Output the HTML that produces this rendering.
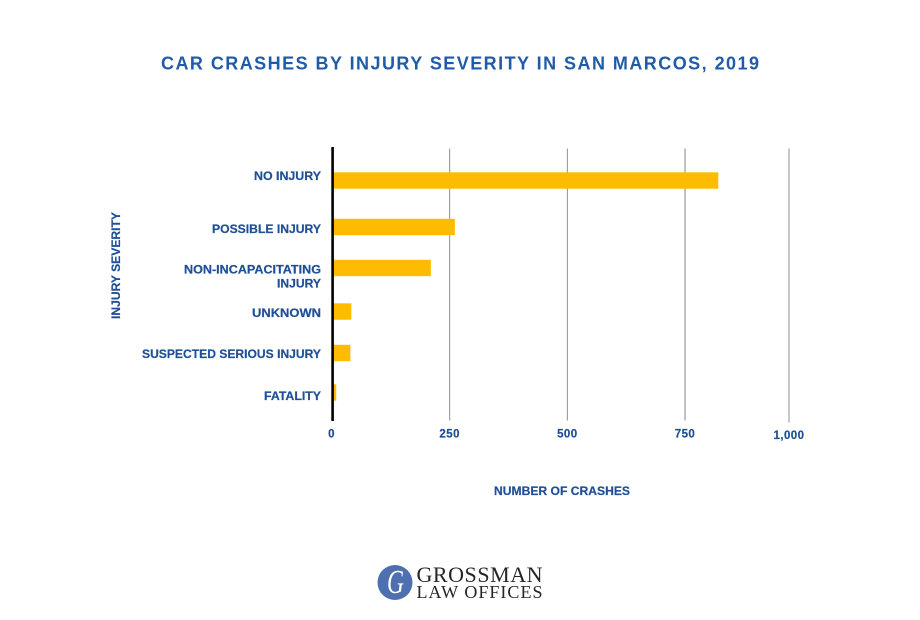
<!DOCTYPE html>
<html lang="en">
<head>
<meta charset="utf-8">
<title>Car Crashes by Injury Severity in San Marcos, 2019</title>
<style>
  html, body { margin: 0; padding: 0; background: #ffffff; }
  body { width: 920px; height: 620px; overflow: hidden; }
  svg { display: block; filter: blur(0.3px); }
  text { font-family: "Liberation Sans", sans-serif; }
  .lbl { font-size: 11.5px; font-weight: 700; fill: #1f4f96; stroke: #1f4f96; stroke-width: 0.2px; letter-spacing: 0.43px; }
  .cat { letter-spacing: 0; }
  .logo { font-family: "Liberation Serif", serif; fill: #262626; }
</style>
</head>
<body>
<svg id="chart" width="920" height="620" viewBox="0 0 920 620" xmlns="http://www.w3.org/2000/svg">
  <rect x="0" y="0" width="920" height="620" fill="#ffffff"/>
  <text x="161" y="69.5" textLength="598" lengthAdjust="spacing" font-size="18" font-weight="700" fill="#1f5ba8">CAR CRASHES BY INJURY SEVERITY IN SAN MARCOS, 2019</text>
  <g id="grid"></g>
  <g id="bars"></g>
  <rect x="331.3" y="147" width="2.6" height="274" fill="#000000"/>
  <g id="ylabels"></g>
  <g id="xlabels"></g>
  <text class="lbl cat" transform="translate(120,319) rotate(-90)" textLength="107" lengthAdjust="spacingAndGlyphs">INJURY SEVERITY</text>
  <text class="lbl cat" x="494" y="495" textLength="136" lengthAdjust="spacingAndGlyphs">NUMBER OF CRASHES</text>
  <g>
    <circle cx="395" cy="582.5" r="17.5" fill="#4f70b0"/>
    <text x="387" y="593" font-size="34" font-style="italic" textLength="17" lengthAdjust="spacingAndGlyphs" style="font-family:'Liberation Serif',serif" fill="#ffffff">G</text>
    <text class="logo" x="416.5" y="582" font-size="22" textLength="126" lengthAdjust="spacing">GROSSMAN</text>
    <text class="logo" x="416.5" y="598" font-size="18" textLength="126" lengthAdjust="spacing">LAW OFFICES</text>
  </g>
</svg>
<script>
const categories = ['NO INJURY', 'POSSIBLE INJURY', 'NON-INCAPACITATING INJURY', 'UNKNOWN', 'SUSPECTED SERIOUS INJURY', 'FATALITY'];
const crashCounts = [830, 261, 210, 41, 39, 9];
const tickValues = [0, 250, 500, 750, 1000];
const tickLabels = ['0', '250', '500', '750', '1,000'];

const NS = 'http://www.w3.org/2000/svg';
function make(tag, parent) {
  const el = document.createElementNS(NS, tag);
  parent.appendChild(el);
  return el;
}
/* Axis functions: the reference's last gridline sits closer than a linear scale would put it */
function xAxis(v) {
  if (v <= 750) return 332 + v * 0.4707;
  return 685 + (v - 750) * 0.416;
}
function yAxis(i) {
  const nudge = [0, 4.1, 2.7, 3.8, 2.9, 0];
  return 180.5 + i * 42.4 + nudge[i];
}
function labelBaseline(i) {
  const nudge = [-0.5, 6, 5.5, 5.5, 5, 7.5];
  return yAxis(i) + nudge[i];
}
function labelWidth(i, k) {
  const widths = [[67], [109], [137, 44], [69], [179], [57]];
  return widths[i][k];
}

const grid = document.getElementById('grid');
const bars = document.getElementById('bars');
const ylabels = document.getElementById('ylabels');
const xlabels = document.getElementById('xlabels');

tickValues.forEach(function (v, i) {
  if (v > 0) {
    const line = make('line', grid);
    
    
    line.setAttribute('x1', xAxis(v));
    line.setAttribute('x2', xAxis(v));
    line.setAttribute('y1', 148.5);
    line.setAttribute('y2', v === 1000 ? 422.5 : 420.5);
    line.setAttribute('stroke', v === 750 ? '#a8a8a8' : '#8f8f8f');
    line.setAttribute('stroke-width', v === 750 ? 1.4 : 1);
  }
  const t = make('text', xlabels);
  
  
  t.setAttribute('class', 'lbl');
  t.setAttribute('x', xAxis(v) - (v === 0 ? 0.5 : 0));
  t.setAttribute('y', v === 1000 ? 439 : 437.5);
  t.setAttribute('text-anchor', 'middle');
  t.textContent = tickLabels[i];
});

categories.forEach(function (name, i) {
  const bar = make('rect', bars);
  
  
  bar.setAttribute('x', xAxis(0));
  bar.setAttribute('y', yAxis(i) - 8.2);
  bar.setAttribute('width', xAxis(crashCounts[i]) - xAxis(0));
  bar.setAttribute('height', 16.4);
  bar.setAttribute('fill', '#ffbb00');

  let lines = [name];
  if (name.length > 24) {
    const cut = name.lastIndexOf(' ');
    lines = [name.slice(0, cut), name.slice(cut + 1)];
  }
  lines.forEach(function (line, k) {
    const t = make('text', ylabels);
    
    
    t.setAttribute('class', 'lbl cat');
    t.setAttribute('x', 321 - labelWidth(i, k));
    t.setAttribute('y', labelBaseline(i) + k * 14);
    t.setAttribute('textLength', labelWidth(i, k));
    t.setAttribute('lengthAdjust', 'spacingAndGlyphs');
    t.textContent = line;
  });
});
</script>
</body>
</html>
